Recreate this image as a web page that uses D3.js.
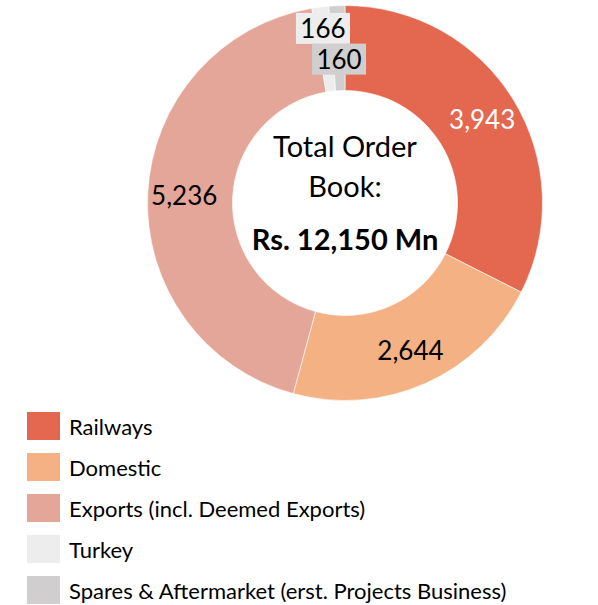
<!DOCTYPE html>
<html>
<head>
<meta charset="utf-8">
<script src="https://cdn.jsdelivr.net/npm/d3@7/dist/d3.min.js"></script>
<style>
  html, body { margin: 0; padding: 0; background: #fff; }
  svg { display: block; font-family: Lato, "Open Sans", sans-serif; }
</style>
</head>
<body>
<svg id="chart" width="598" height="605"></svg>
<script>
// Order book split (Rs. Mn)
const categories = [
  "Railways",
  "Domestic",
  "Exports (incl. Deemed Exports)",
  "Turkey",
  "Spares & Aftermarket (erst. Projects Business)"
];
const values = [3943, 2644, 5236, 166, 160];
const colors = ["#E4674F", "#F4B183", "#E4A699", "#EDEDED", "#D0CECE"];
const labelColors = ["#FFFFFF", "#000000", "#000000", "#000000", "#000000"];
const centerLines = ["Total Order", "Book:"];
const totalLine = "Rs. 12,150 Mn";

const svg = d3.select("#chart");
const cx = 345, cy = 203;
const outerR = 197.5, innerR = 112.5;

const data = categories.map((c, i) => ({ name: c, value: values[i], i }));
const pie = d3.pie().sort(null).value(d => d.value);
const arcs = pie(data);
const arc = d3.arc().innerRadius(innerR).outerRadius(outerR);
const labelArc = d3.arc().innerRadius(161).outerRadius(161);

const g = svg.append("g").attr("transform", `translate(${cx},${cy})`);

g.selectAll("path.slice")
  .data(arcs)
  .join("path")
  .attr("class", "slice")
  .attr("d", arc)
  .attr("fill", d => colors[d.data.i])
  .attr("stroke", "#fff")
  .attr("stroke-width", 0.6);

const fmt = d3.format(",");
const fontSize = 26;

// Small slices get staggered label radii with filled boxes
const smallRadii = [176, 144];
let smallIdx = 0;
arcs.forEach(d => {
  const frac = d.value / d3.sum(values);
  const mid = (d.startAngle + d.endAngle) / 2;
  let x, y, boxed = false;
  if (frac < 0.03) {
    const r = smallRadii[smallIdx++ % smallRadii.length];
    x = Math.sin(mid) * r;
    y = -Math.cos(mid) * r;
    boxed = true;
  } else {
    [x, y] = labelArc.centroid(d);
  }
  const lg = g.append("g").attr("transform", `translate(${x},${y})`);
  if (boxed) {
    lg.append("rect")
      .attr("x", -27).attr("y", -15.5)
      .attr("width", 54).attr("height", 31)
      .attr("fill", colors[d.data.i]);
  }
  lg.append("text")
    .attr("text-anchor", "middle")
    .attr("dominant-baseline", "central")
    .attr("font-size", fontSize)
    .attr("fill", labelColors[d.data.i])
    .text(fmt(d.value));
});

// Centre text
const ct = g.append("g");
ct.selectAll("text.cl")
  .data(centerLines)
  .join("text")
  .attr("class", "cl")
  .attr("text-anchor", "middle")
  .attr("x", 0)
  .attr("y", (d, i) => -46 + i * 39.5)
  .attr("font-size", 29)
  .attr("fill", "#000")
  .text(d => d);
ct.append("text")
  .attr("text-anchor", "middle")
  .attr("x", 0)
  .attr("y", 47)
  .attr("font-size", 29)
  .attr("font-weight", "bold")
  .attr("fill", "#000")
  .text(totalLine);

// Legend
const legend = svg.append("g").attr("transform", "translate(27,412)");
const li = legend.selectAll("g").data(categories).join("g")
  .attr("transform", (d, i) => `translate(0,${i * 41})`);
li.append("rect").attr("width", 33).attr("height", 28).attr("fill", (d, i) => colors[i]);
li.append("text")
  .attr("x", 42).attr("y", 23)
  .attr("font-size", 22)
  .attr("fill", "#000")
  .text(d => d);
</script>
</body>
</html>
